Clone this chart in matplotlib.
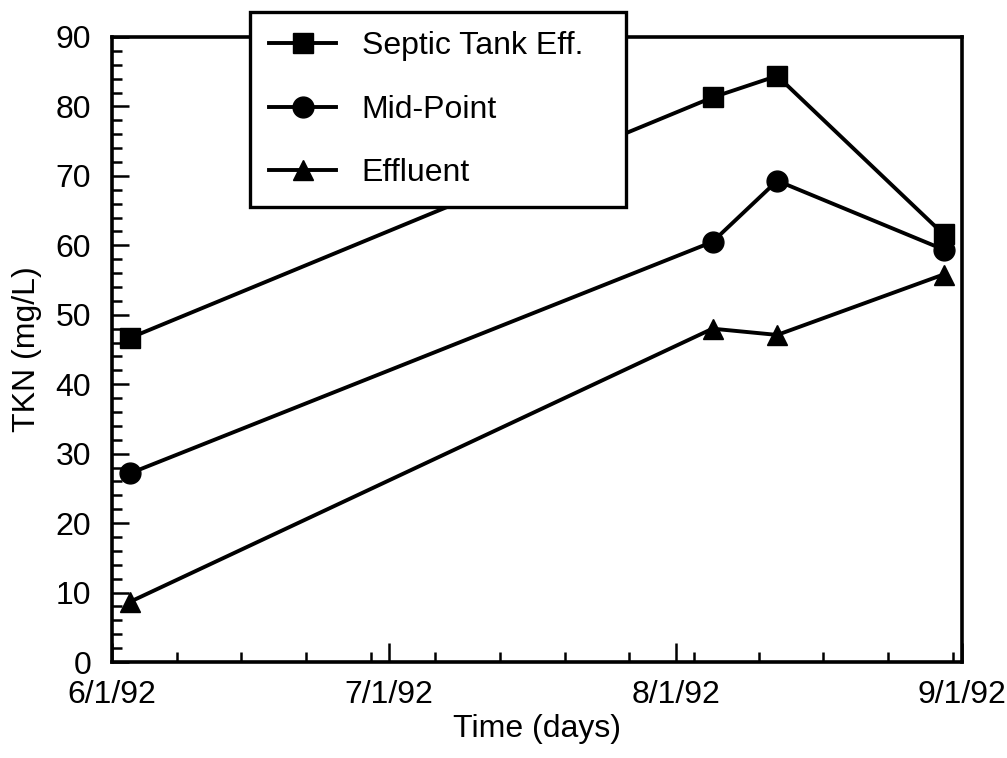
import datetime as dt
import matplotlib
matplotlib.use("Agg")
import matplotlib.pyplot as plt
import matplotlib.dates as mdates
from matplotlib.ticker import MultipleLocator, FuncFormatter

plt.rcParams['font.family'] = ['Liberation Sans', 'DejaVu Sans']

dates = [dt.date(1992, 6, 3), dt.date(1992, 8, 5), dt.date(1992, 8, 12), dt.date(1992, 8, 30)]
septic = [46.7, 81.3, 84.4, 61.6]
midpoint = [27.2, 60.5, 69.3, 59.4]
effluent = [8.7, 48.0, 47.1, 55.8]

FS = 23

fig = plt.figure(figsize=(10.07, 7.58), dpi=100)
ax = fig.add_axes([0.1112, 0.1266, 0.8441, 0.8246])

kw = dict(color='black', linewidth=2.8, markersize=14)
ax.plot(dates, septic, marker='s', label='Septic Tank Eff.', **kw)
ax.plot(dates, midpoint, marker='o', label='Mid-Point', markersize=15,
        color='black', linewidth=2.8)
ax.plot(dates, effluent, marker='^', label='Effluent', **kw)

ax.set_xlim(dt.date(1992, 6, 1), dt.date(1992, 9, 1))
ax.set_ylim(0, 90)


def date_label(v, pos):
    d = mdates.num2date(v)
    return "{}/{}/{}".format(d.month, d.day, d.strftime('%y'))


ax.xaxis.set_major_locator(mdates.MonthLocator())
ax.xaxis.set_minor_locator(mdates.WeekdayLocator(byweekday=mdates.MO))
ax.xaxis.set_major_formatter(FuncFormatter(date_label))
ax.yaxis.set_major_locator(MultipleLocator(10))
ax.yaxis.set_minor_locator(MultipleLocator(2))

ax.tick_params(which='both', direction='in', width=1.8, labelsize=FS)
ax.tick_params(axis='y', which='major', length=12, pad=15)
ax.tick_params(axis='y', which='minor', length=7)
ax.tick_params(axis='x', which='major', length=14, pad=13)
ax.tick_params(axis='x', which='minor', length=7)
for s in ax.spines.values():
    s.set_linewidth(2.6)

ax.set_xlabel('Time (days)', fontsize=FS, labelpad=3)
ax.set_ylabel('TKN (mg/L)', fontsize=FS, labelpad=10)

# legend box sits over the top spine, like the original
leg = fig.legend(loc='upper left', mode='expand',
                 bbox_to_anchor=(250 / 1007, 1 - 202 / 758, 376 / 1007, 190 / 758),
                 fontsize=FS, frameon=True, fancybox=False, framealpha=1,
                 edgecolor='black', handlelength=2.1, handletextpad=0.8,
                 labelspacing=1.05, borderpad=0.6, borderaxespad=0)
leg.get_frame().set_linewidth(2.4)

fig.savefig('out.png', dpi=100)
